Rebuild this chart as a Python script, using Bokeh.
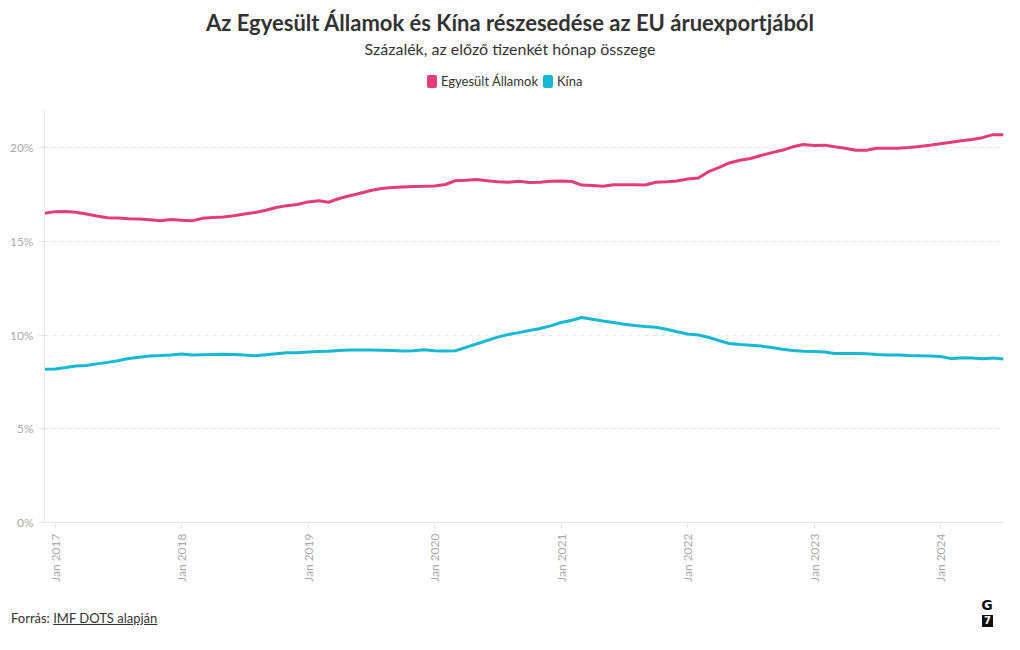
import pandas as pd
from bokeh.plotting import figure
from bokeh.layouts import column
from bokeh.models import (Range1d, FixedTicker, DatetimeTickFormatter, PrintfTickFormatter, Div)
from bokeh.embed import file_html
from bokeh.resources import INLINE
import math

# ---- data (share of EU goods exports, %, rolling 12-month sum) ----
start_month = "2016-12-01"
us_share = [16.51, 16.60, 16.61, 16.57, 16.47, 16.37, 16.27, 16.26, 16.22, 16.20, 16.16,
            16.11, 16.18, 16.14, 16.11, 16.24, 16.28, 16.31, 16.38, 16.47, 16.55,
            16.67, 16.82, 16.92, 16.98, 17.12, 17.18, 17.10, 17.30, 17.45, 17.58,
            17.73, 17.83, 17.89, 17.92, 17.94, 17.95, 17.97, 18.05, 18.25, 18.27,
            18.31, 18.25, 18.20, 18.17, 18.22, 18.15, 18.17, 18.22, 18.23, 18.21,
            18.02, 17.99, 17.95, 18.03, 18.04, 18.04, 18.02, 18.17, 18.20, 18.24,
            18.34, 18.40, 18.72, 18.95, 19.20, 19.34, 19.44, 19.60, 19.75, 19.88,
            20.06, 20.18, 20.13, 20.15, 20.06, 19.98, 19.88, 19.88, 19.98, 19.99,
            19.99, 20.03, 20.08, 20.15, 20.23, 20.30, 20.38, 20.45, 20.55, 20.71, 20.71]
china_share = [8.18, 8.20, 8.28, 8.36, 8.38, 8.47, 8.55, 8.64, 8.76, 8.83, 8.89,
               8.92, 8.95, 9.00, 8.95, 8.96, 8.97, 8.98, 8.97, 8.94, 8.91,
               8.96, 9.01, 9.06, 9.07, 9.10, 9.13, 9.15, 9.19, 9.21, 9.21,
               9.21, 9.20, 9.18, 9.16, 9.17, 9.23, 9.17, 9.16, 9.17, 9.35,
               9.53, 9.72, 9.90, 10.04, 10.14, 10.25, 10.36, 10.50, 10.68, 10.80,
               10.95, 10.85, 10.76, 10.68, 10.59, 10.52, 10.47, 10.43, 10.32, 10.19,
               10.07, 10.01, 9.89, 9.72, 9.56, 9.50, 9.46, 9.42, 9.34, 9.25,
               9.18, 9.15, 9.13, 9.10, 9.02, 9.02, 9.02, 9.01, 8.97, 8.95,
               8.94, 8.92, 8.91, 8.89, 8.86, 8.75, 8.80, 8.78, 8.75, 8.78, 8.73]
series_names = ["Egyesült Államok", "Kína"]
tick_years = [2017, 2018, 2019, 2020, 2021, 2022, 2023, 2024]
y_ticks = [0, 5, 10, 15, 20]
title_text = "Az Egyesült Államok és Kína részesedése az EU áruexportjából"
subtitle_text = "Százalék, az előző tizenkét hónap összege"
source_label = "Forrás:"
source_link = "IMF DOTS alapján"

months = pd.date_range(start_month, periods=len(us_share), freq="MS")

FONT = "Lato"
US_COLOR = "#e23d78"
CN_COLOR = "#17b8d3"
TEXT = "#333333"
AXIS_TEXT = "#aaaaaa"
LINE_GREY = "#e6e6e6"
W = 1004
colors = [US_COLOR, CN_COLOR]

legend_html = "".join(
    f'<span style="display:inline-block;width:10px;height:13px;border-radius:2px;background:{c};'
    f'margin-right:4px;"></span><span style="margin-right:5px;">{n}</span>'
    for n, c in zip(series_names, colors))

header = Div(width=W, height=95, margin=0, text=f"""
<div style="position:relative;width:{W}px;height:95px;font-family:{FONT};color:{TEXT};">
  <div style="position:absolute;left:10px;top:10px;width:1000px;text-align:center;
              font-size:22px;font-weight:bold;line-height:26px;white-space:nowrap;">{title_text}</div>
  <div style="position:absolute;left:10px;top:39px;width:1000px;text-align:center;
              font-size:16px;line-height:19px;white-space:nowrap;">{subtitle_text}</div>
  <div style="position:absolute;left:427px;top:73px;height:16px;display:flex;align-items:center;
              font-size:13px;line-height:16px;white-space:nowrap;">{legend_html}</div>
</div>""")

p = figure(width=W, height=497, x_axis_type="datetime",
           x_range=Range1d(months[0], months[-1]), y_range=Range1d(0, 22),
           output_backend="svg", toolbar_location=None, margin=0,
           min_border_left=44, min_border_right=1, min_border_top=15, min_border_bottom=70)
p.outline_line_color = None
p.background_fill_color = "white"
p.border_fill_color = "white"

r_us = p.line(months, us_share, line_color=US_COLOR, line_width=3)
r_cn = p.line(months, china_share, line_color=CN_COLOR, line_width=3)

# axes
xa = p.xaxis[0]
xa.ticker = FixedTicker(ticks=[pd.Timestamp(f"{y}-01-01").timestamp() * 1000 for y in tick_years])
xa.formatter = DatetimeTickFormatter(years="%b %Y", months="%b %Y", days="%b %Y",
                                     hours="%b %Y", minutes="%b %Y")
xa.major_label_orientation = math.pi / 2
ya = p.yaxis[0]
ya.ticker = FixedTicker(ticks=y_ticks)
ya.formatter = PrintfTickFormatter(format="%d%%")
for ax in (xa, ya):
    ax.axis_line_color = LINE_GREY
    ax.major_tick_line_color = LINE_GREY
    ax.major_tick_out = 6
    ax.major_tick_in = 0
    ax.minor_tick_line_color = None
    ax.major_label_text_color = AXIS_TEXT
    ax.major_label_text_font = FONT
    ax.major_label_text_font_size = "12px"
    ax.major_label_standoff = 5

p.xgrid.grid_line_color = None
p.ygrid.grid_line_color = LINE_GREY
p.ygrid.grid_line_dash = "4 4"

footer = Div(width=W, height=42, margin=0, text=f"""
<div style="position:relative;width:{W}px;height:42px;font-family:{FONT};color:{TEXT};">
  <div style="position:absolute;left:11px;top:18px;font-size:13px;line-height:16px;white-space:nowrap;">
    {source_label} <span style="text-decoration:underline;">{source_link}</span></div>
  <div style="position:absolute;left:981px;top:5px;width:12px;text-align:center;font-family:'DejaVu Sans';
              font-weight:bold;font-size:14px;line-height:16px;color:#111;">G</div>
  <div style="position:absolute;left:982px;top:23px;width:11px;height:12px;background:#111;color:#fff;
              text-align:center;font-family:'DejaVu Sans';font-weight:bold;font-size:10px;line-height:12px;">7</div>
</div>""")

layout = column(header, p, footer, spacing=0, margin=0)
open("out.html", "w").write(file_html(layout, INLINE))
